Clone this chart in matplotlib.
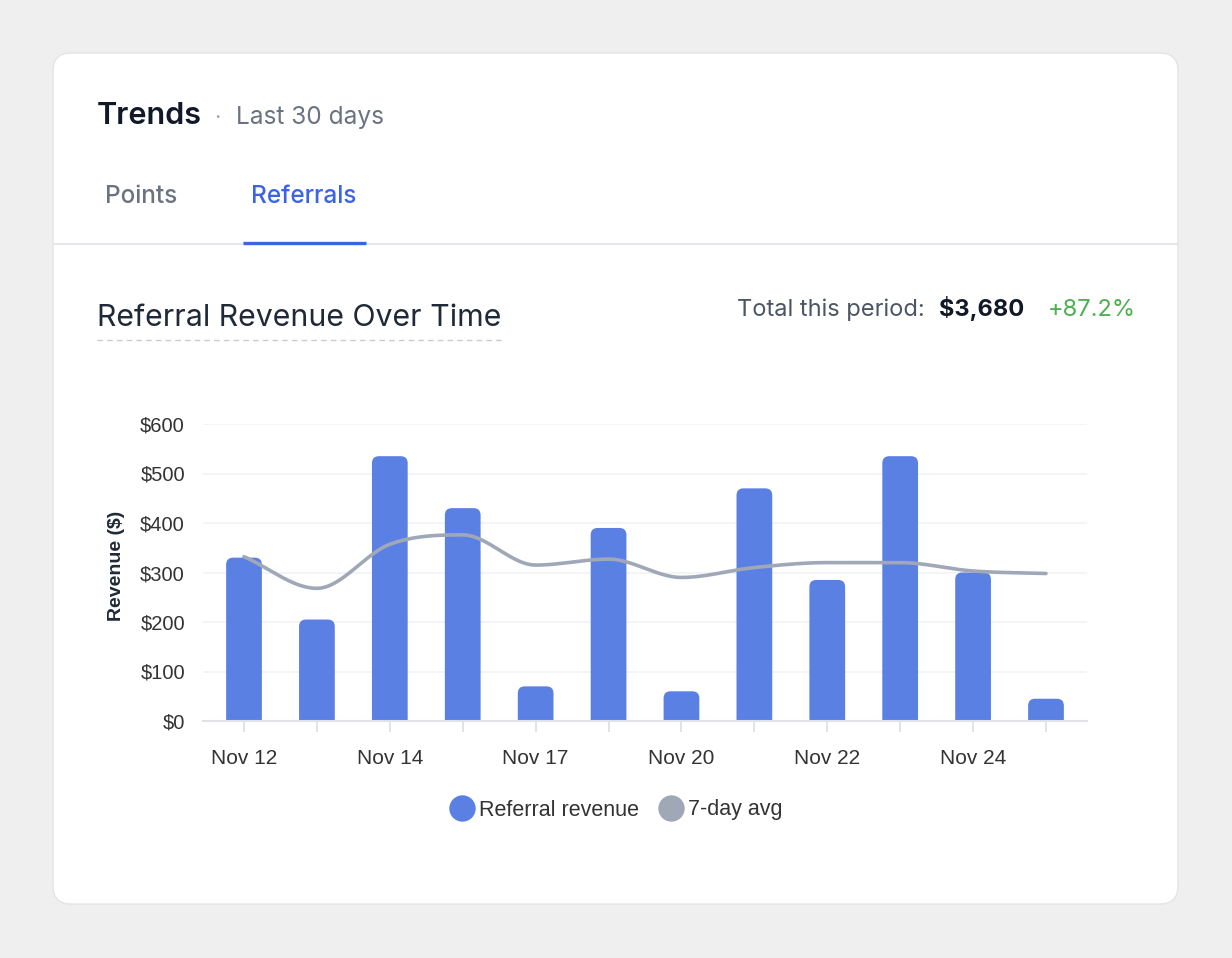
import numpy as np
import matplotlib
matplotlib.use("Agg")
import matplotlib.pyplot as plt
import matplotlib.patches as patches
from matplotlib.lines import Line2D
from matplotlib.path import Path

# chart data
dates = ["Nov 12", "Nov 13", "Nov 14", "Nov 16", "Nov 17", "Nov 18",
         "Nov 20", "Nov 21", "Nov 22", "Nov 23", "Nov 24", "Nov 25"]
shown_labels = ["Nov 12", "Nov 14", "Nov 17", "Nov 20", "Nov 22", "Nov 24"]
revenue = [330, 205, 535, 430, 70, 390, 60, 470, 285, 535, 300, 45]
avg_7day = [332, 268, 357, 376, 315, 327, 290, 310, 320, 320, 303, 298]
y_ticks = [0, 100, 200, 300, 400, 500, 600]

BLUE = "#5b80e4"
LINE_GRAY = "#a0a8b8"
DARK = "#111827"
MUTED = "#6b7280"
TAB_BLUE = "#3b63e8"
GREEN = "#4caf50"

W, H = 1232, 958
UI_FONT = ["Inter", "DejaVu Sans"]
CHART_FONT = ["Liberation Sans", "DejaVu Sans"]


def monotone_curve(y, n=40):
    """Fritsch-Carlson monotone cubic through the points (x = 0..len-1)."""
    y = np.asarray(y, dtype=float)
    d = np.diff(y)
    m = np.zeros_like(y)
    m[0], m[-1] = d[0], d[-1]
    for k in range(1, len(y) - 1):
        if d[k - 1] * d[k] > 0:
            m[k] = (d[k - 1] + d[k]) / 2
    for k in range(len(d)):
        if d[k] == 0:
            m[k] = m[k + 1] = 0
            continue
        a, b = m[k] / d[k], m[k + 1] / d[k]
        s = a * a + b * b
        if s > 9:
            t = 3 / np.sqrt(s)
            m[k], m[k + 1] = t * a * d[k], t * b * d[k]
    xs, ys = [], []
    for k in range(len(d)):
        t = np.linspace(0, 1, n, endpoint=False)
        h00 = 2 * t**3 - 3 * t**2 + 1
        h10 = t**3 - 2 * t**2 + t
        h01 = -2 * t**3 + 3 * t**2
        h11 = t**3 - t**2
        xs.append(k + t)
        ys.append(h00 * y[k] + h10 * m[k] + h01 * y[k + 1] + h11 * m[k + 1])
    xs.append([len(y) - 1])
    ys.append([y[-1]])
    return np.concatenate(xs), np.concatenate(ys)


def top_rounded(x0, w, h, rx, ry):
    """Bar outline with rounded top corners only (data coords)."""
    ry = min(ry, h)
    verts = [(x0, 0), (x0, h - ry), (x0, h), (x0 + rx, h),
             (x0 + w - rx, h), (x0 + w, h), (x0 + w, h - ry),
             (x0 + w, 0), (x0, 0)]
    codes = [Path.MOVETO, Path.LINETO, Path.CURVE3, Path.CURVE3,
             Path.LINETO, Path.CURVE3, Path.CURVE3,
             Path.LINETO, Path.CLOSEPOLY]
    return Path(verts, codes)


fig = plt.figure(figsize=(W / 100, H / 100), dpi=100)
fig.patch.set_facecolor("#efefef")

# background layer in pixel coordinates (y downwards)
bg = fig.add_axes([0, 0, 1, 1])
bg.set_xlim(0, W)
bg.set_ylim(H, 0)
bg.axis("off")

card = patches.FancyBboxPatch((53, 53), 1125, 851,
                              boxstyle="round,pad=0,rounding_size=18",
                              facecolor="white", edgecolor="#e4e4e4", linewidth=1)
bg.add_patch(card)

# header
bg.text(97, 124, "Trends", fontsize=22, fontweight="semibold", color=DARK,
        family=UI_FONT, va="baseline")
bg.text(214, 124, "·", fontsize=16, color="#9ca3af", family=UI_FONT, va="baseline")
bg.text(236, 124, "Last 30 days", fontsize=17.6, color=MUTED, family=UI_FONT, va="baseline")

# tabs
bg.text(105, 203, "Points", fontsize=17.5, fontweight="medium", color=MUTED,
        family=UI_FONT, va="baseline")
bg.text(251, 203, "Referrals", fontsize=17.5, fontweight="medium", color=TAB_BLUE,
        family=UI_FONT, va="baseline")
bg.plot([53, 1178], [244, 244], color="#e5e7eb", lw=1.5, solid_capstyle="butt")
bg.plot([243, 366], [243, 243], color=TAB_BLUE, lw=2.4, solid_capstyle="butt")

# section title
bg.text(97, 326, "Referral Revenue Over Time", fontsize=21.8, color="#1f2937",
        family=UI_FONT, va="baseline")
bg.plot([97, 502], [340, 340], color="#c8ccd2", lw=1, linestyle=(0, (4, 3)))

bg.text(737, 316, "Total this period:", fontsize=17, color="#4b5563",
        family=UI_FONT, va="baseline")
bg.text(939, 316, "$3,680", fontsize=17, fontweight="bold", color=DARK,
        family=UI_FONT, va="baseline")
bg.text(1048, 316, "+87.2%", fontsize=17, color=GREEN, family=UI_FONT, va="baseline")

# chart axes
left, right, top, bottom = 203, 1087, 424, 721
ax = fig.add_axes([left / W, 1 - bottom / H, (right - left) / W, (bottom - top) / H])
ax.set_facecolor("none")
x = np.arange(len(dates))
x_margin = 0.5625
ax.set_xlim(-x_margin, len(dates) - 1 + x_margin)
ax.set_ylim(0, 600)

bars = ax.bar(x, revenue, width=0.49, color=BLUE, zorder=2)
# swap plain rectangles for ones with rounded tops
px_per_x = (right - left) / (len(dates) - 1 + 2 * x_margin)
px_per_y = (bottom - top) / 600
r_px = 7
for rect in bars:
    rect.set_visible(False)
    path = top_rounded(rect.get_x(), rect.get_width(), rect.get_height(),
                       r_px / px_per_x, r_px / px_per_y)
    ax.add_patch(patches.PathPatch(path, facecolor=BLUE, edgecolor="none", zorder=2))

cx, cy = monotone_curve(avg_7day)
ax.plot(cx, cy, color=LINE_GRAY, lw=2.6, zorder=3, solid_capstyle="round")

ax.set_yticks(y_ticks)
ax.set_yticklabels([f"${v}" for v in y_ticks])
ax.set_xticks(x)
ax.set_xticklabels([d if d in shown_labels else "" for d in dates])
ax.grid(axis="y", color="#f1f2f4", lw=1.2, zorder=0)
for s in ["top", "right", "left"]:
    ax.spines[s].set_visible(False)
ax.spines["bottom"].set_color("#e0e2e6")
ax.spines["bottom"].set_linewidth(1.5)
ax.tick_params(axis="x", length=8, color="#dcdfe3", width=1.2, pad=12,
               labelsize=15, labelcolor="#333333")
ax.tick_params(axis="y", length=0, pad=13, labelsize=14.5, labelcolor="#333333")
for lab in ax.get_xticklabels() + ax.get_yticklabels():
    lab.set_family(CHART_FONT)
ax.set_ylabel("Revenue ($)", fontsize=14, fontweight="bold", color="#1f2937",
              family=CHART_FONT)
ax.yaxis.set_label_coords((125 - left) / (right - left), (bottom - 566) / (bottom - top))

handles = [
    Line2D([], [], marker="o", linestyle="none", markersize=19,
           markerfacecolor=BLUE, markeredgecolor="none"),
    Line2D([], [], marker="o", linestyle="none", markersize=19,
           markerfacecolor=LINE_GRAY, markeredgecolor="none"),
]
fig.legend(handles, ["Referral revenue", "7-day avg"], loc="center",
           bbox_to_anchor=(617 / W, 1 - 810 / H), ncol=2, frameon=False,
           handlelength=1.0, handletextpad=0.3, columnspacing=1.0,
           prop={"family": CHART_FONT, "size": 15.5}, labelcolor="#333333")

fig.savefig("out.png", dpi=100, facecolor=fig.get_facecolor())
